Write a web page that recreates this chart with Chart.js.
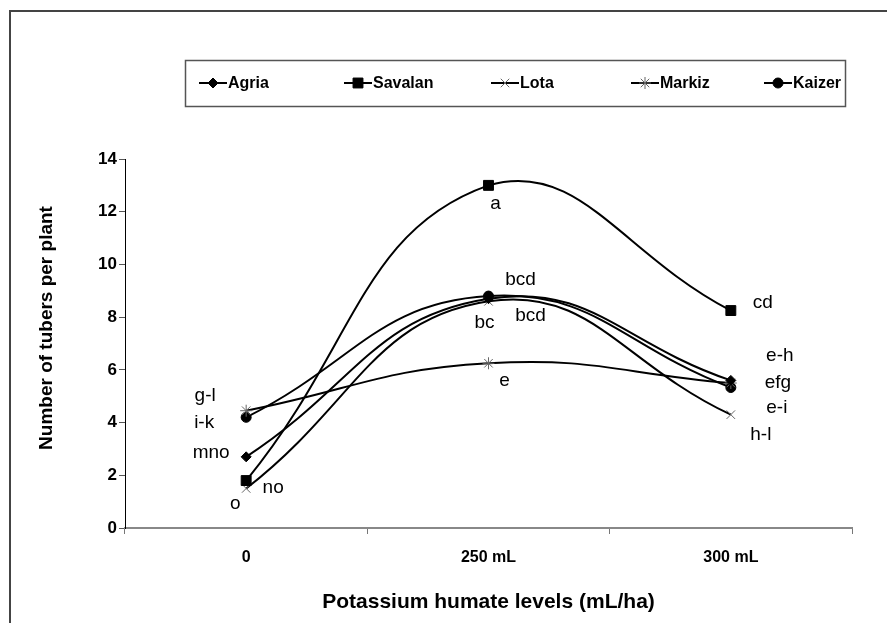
<!DOCTYPE html>
<html>
<head>
<meta charset="utf-8">
<script src="https://cdn.jsdelivr.net/npm/chart.js@4.4.0/dist/chart.umd.min.js"></script>
<style>
    html, body { margin: 0; padding: 0; background: #fff; }
    #wrap { width: 887px; height: 623px; }
</style>
</head>
<body>
<div id="wrap"><canvas id="myChart" width="887" height="623"></canvas></div>
<script>
// data
let levels = ['0', '250 mL', '300 mL']
let yTicks = [0, 2, 4, 6, 8, 10, 12, 14]

let agria = [2.7, 8.7, 5.6]
let savalan = [1.8, 13.0, 8.25]
let lota = [1.5, 8.6, 4.3]
let markiz = [4.45, 6.25, 5.5]
let kaizer = [4.2, 8.8, 5.33]

// letters of mean separation, one per level
let agriaLetters = ['mno', 'bc', 'e-h']
let savalanLetters = ['no', 'a', 'cd']
let lotaLetters = ['o', 'bcd', 'h-l']
let markizLetters = ['g-l', 'e', 'efg']
let kaizerLetters = ['i-k', 'bcd', 'e-i']

const FONT = 'Arial, "Liberation Sans", sans-serif'

// where each letter sits relative to its marker (px)
const letterOffsets = [
    [[-35, -4], [-4, 24], [49, -25]],
    [[27, 7], [7, 18], [32, -8]],
    [[-11, 15], [42, 14], [30, 20]],
    [[-41, -15], [16, 17], [47, 0]],
    [[-42, 5], [32, -16], [46, 20]]
]
const allLetters = [agriaLetters, savalanLetters, lotaLetters, markizLetters, kaizerLetters]

// legend entries start here (px)
const legendX = [199, 344, 491, 631, 764]

const framePlugin = {
    id: 'frame',
    beforeDraw(chart) {
        const ctx = chart.ctx
        ctx.save()
        ctx.fillStyle = '#fff'
        ctx.fillRect(0, 0, chart.width, chart.height)
        ctx.strokeStyle = '#444'
        ctx.lineWidth = 2
        ctx.beginPath()
        ctx.moveTo(10, chart.height)
        ctx.lineTo(10, 11)
        ctx.lineTo(chart.width, 11)
        ctx.stroke()

        // y axis title
        ctx.translate(47, 328)
        ctx.rotate(-Math.PI / 2)
        ctx.fillStyle = '#000'
        ctx.font = 'bold 19px ' + FONT
        ctx.textAlign = 'center'
        ctx.textBaseline = 'middle'
        ctx.fillText('Number of tubers per plant', 0, 0)
        ctx.restore()
    }
}

const lettersPlugin = {
    id: 'letters',
    afterDatasetsDraw(chart) {
        const ctx = chart.ctx
        ctx.save()
        ctx.fillStyle = '#000'
        ctx.font = '19px ' + FONT
        ctx.textAlign = 'center'
        ctx.textBaseline = 'middle'
        chart.data.datasets.forEach((ds, i) => {
            const meta = chart.getDatasetMeta(i)
            meta.data.forEach((pt, j) => {
                const off = letterOffsets[i][j]
                ctx.fillText(allLetters[i][j], pt.x + off[0], pt.y + off[1])
            })
        })
        ctx.restore()
    }
}

const legendPlugin = {
    id: 'boxLegend',
    afterDraw(chart) {
        const ctx = chart.ctx
        ctx.save()
        ctx.strokeStyle = '#555'
        ctx.lineWidth = 1.5
        ctx.strokeRect(185.5, 60.5, 660, 46)
        const y = 83
        chart.data.datasets.forEach((ds, i) => {
            const x0 = legendX[i]
            ctx.strokeStyle = '#000'
            ctx.lineWidth = 2
            ctx.beginPath()
            ctx.moveTo(x0, y)
            ctx.lineTo(x0 + 28, y)
            ctx.stroke()
            ctx.fillStyle = ds.pointBackgroundColor
            ctx.strokeStyle = ds.pointBorderColor
            ctx.lineWidth = ds.pointBorderWidth
            Chart.helpers.drawPoint(ctx, {
                pointStyle: ds.pointStyle,
                rotation: 0,
                radius: ds.pointRadius,
                borderWidth: ds.pointBorderWidth
            }, x0 + 14, y)
            ctx.fillStyle = '#000'
            ctx.font = 'bold 16px ' + FONT
            ctx.textAlign = 'left'
            ctx.textBaseline = 'middle'
            ctx.fillText(ds.label, x0 + 29, y + 1)
        })
        ctx.restore()
    }
}

function series(label, data, style, radius, markerColor) {
    return {
        label: label,
        data: data,
        borderColor: '#000',
        borderWidth: 2,
        backgroundColor: '#000',
        pointStyle: style,
        pointRadius: radius,
        pointHoverRadius: radius,
        pointBackgroundColor: markerColor,
        pointBorderColor: markerColor,
        pointBorderWidth: 1,
        tension: 0.45,
        fill: false
    }
}

let myChart = document.getElementById('myChart').getContext('2d')

let chart = new Chart(myChart, {
    type: 'line',
    data: {
        labels: levels,
        datasets: [
            series('Agria', agria, 'rectRot', 5, '#000'),
            series('Savalan', savalan, 'rect', 7, '#000'),
            series('Lota', lota, 'crossRot', 6, '#666'),
            series('Markiz', markiz, 'star', 6, '#666'),
            series('Kaizer', kaizer, 'circle', 5, '#000')
        ]
    },
    options: {
        responsive: false,
        animation: false,
        devicePixelRatio: 1,
        layout: {
            padding: { top: 159, right: 35, left: 0, bottom: 0 }
        },
        plugins: {
            legend: { display: false },
            tooltip: { enabled: false }
        },
        scales: {
            x: {
                type: 'category',
                offset: true,
                afterFit(scale) { scale.height = 95 },
                grid: {
                    offset: true,
                    drawOnChartArea: false,
                    drawTicks: true,
                    tickLength: 6,
                    color: '#777'
                },
                border: { display: true, color: '#888', width: 2 },
                ticks: {
                    color: '#000',
                    padding: 14,
                    font: { family: FONT, size: 16, weight: 'bold' }
                },
                title: {
                    display: true,
                    text: 'Potassium humate levels (mL/ha)',
                    color: '#000',
                    font: { family: FONT, size: 21, weight: 'bold' },
                    padding: { top: 0, bottom: 8 }
                }
            },
            y: {
                min: 0,
                max: 14,
                afterFit(scale) { scale.width = 125 },
                afterBuildTicks(scale) { scale.ticks = yTicks.map(v => ({ value: v })) },
                grid: {
                    drawOnChartArea: false,
                    drawTicks: true,
                    tickLength: 6,
                    color: '#555'
                },
                border: { display: true, color: '#000', width: 1 },
                ticks: {
                    color: '#000',
                    padding: 2,
                    font: { family: FONT, size: 17, weight: 'bold' }
                }
            }
        }
    },
    plugins: [framePlugin, legendPlugin, lettersPlugin]
})
</script>
</body>
</html>
